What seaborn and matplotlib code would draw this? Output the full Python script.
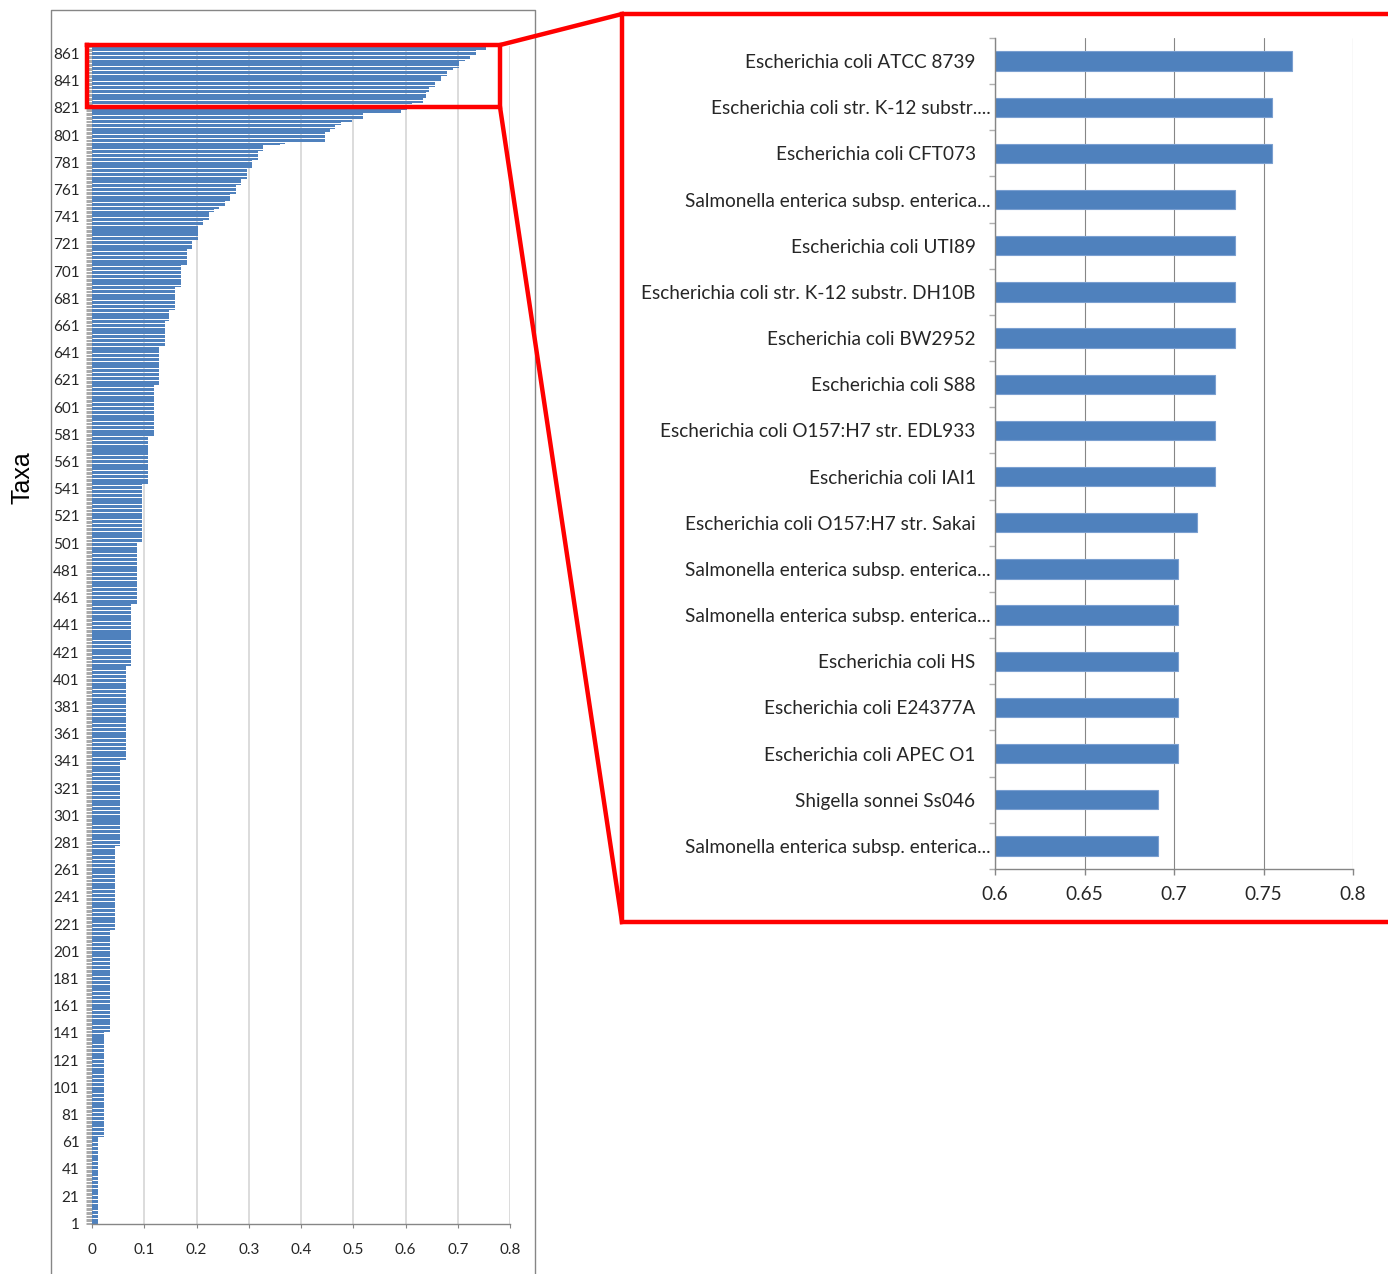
import numpy as np
import pandas as pd
import matplotlib.pyplot as plt
import matplotlib.transforms as mtransforms
from matplotlib import font_manager
import seaborn as sns

# ---------------------------------------------------------
# data
# ---------------------------------------------------------
# left panel: sorted scores of all taxa, as runs of equal value (taxa 1..848)
run_values = [0.0115, 0.023, 0.0345, 0.0435, 0.0545, 0.0645, 0.075, 0.086,
              0.0955, 0.107, 0.118, 0.128, 0.139, 0.148, 0.159, 0.170,
              0.181, 0.191, 0.202, 0.212, 0.223, 0.234, 0.244, 0.255,
              0.265, 0.276, 0.286, 0.297, 0.307, 0.318, 0.328, 0.360,
              0.370, 0.445, 0.456, 0.466, 0.476, 0.497, 0.518, 0.591,
              0.602, 0.613, 0.634, 0.640, 0.645, 0.656, 0.667, 0.680]
run_counts = [64, 77, 75, 62, 63, 69, 46, 45,
              43, 35, 38, 28, 19, 8, 17, 16,
              12, 6, 11, 4, 6, 2, 2, 4,
              5, 7, 4, 8, 6, 7, 4, 1,
              1, 8, 2, 3, 2, 2, 5, 2,
              2, 3, 4, 4, 4, 4, 4, 4]

# right panel: the 18 best taxa (top to bottom), also the top of the left panel
zoom_names = ['Escherichia coli ATCC 8739',
              'Escherichia coli str. K-12 substr....',
              'Escherichia coli CFT073',
              'Salmonella enterica subsp. enterica...',
              'Escherichia coli UTI89',
              'Escherichia coli str. K-12 substr. DH10B',
              'Escherichia coli BW2952',
              'Escherichia coli S88',
              'Escherichia coli O157:H7 str. EDL933',
              'Escherichia coli IAI1',
              'Escherichia coli O157:H7 str. Sakai',
              'Salmonella enterica subsp. enterica...',
              'Salmonella enterica subsp. enterica...',
              'Escherichia coli HS',
              'Escherichia coli E24377A',
              'Escherichia coli APEC O1',
              'Shigella sonnei Ss046',
              'Salmonella enterica subsp. enterica...']
zoom_values = [0.766, 0.755, 0.755, 0.734, 0.734, 0.734, 0.734, 0.723, 0.723,
               0.723, 0.713, 0.702, 0.702, 0.702, 0.702, 0.702, 0.691, 0.691]

left_yticks = list(range(1, 862, 20))
left_xticks = [0, 0.1, 0.2, 0.3, 0.4, 0.5, 0.6, 0.7, 0.8]
left_xlabels = ['0', '0.1', '0.2', '0.3', '0.4', '0.5', '0.6', '0.7', '0.8']
zoom_xticks = [0.6, 0.65, 0.7, 0.75, 0.8]
zoom_xlabels = ['0.6', '0.65', '0.7', '0.75', '0.8']

# ---------------------------------------------------------
# style
# ---------------------------------------------------------
sns.set_style('white')
plt.rcParams['font.family'] = ['Lato', 'DejaVu Sans']

bar_blue = '#4F81BD'
axis_gray = '#868686'
text_color = '#262626'

# condensed face for the small left panel if there is one
installed = {f.name for f in font_manager.fontManager.ttflist}
if 'Liberation Sans Narrow' in installed:
    narrow, narrow_size = ['Liberation Sans Narrow', 'DejaVu Sans'], 12
else:
    narrow, narrow_size = ['Lato', 'DejaVu Sans'], 11

W, H = 1388, 1274
fig = plt.figure(figsize=(W / 100, H / 100), dpi=100, facecolor='white')


def px_axes(x0, y0, x1, y1, **kw):
    """axes placed by pixel box (top-left origin)"""
    return fig.add_axes([x0 / W, 1 - y1 / H, (x1 - x0) / W, (y1 - y0) / H], **kw)


# ---------------------------------------------------------
# left panel: all taxa
# ---------------------------------------------------------
all_values = np.concatenate([np.repeat(run_values, run_counts), zoom_values[::-1]])
left_df = pd.DataFrame({'taxon': np.arange(1, len(all_values) + 1), 'value': all_values})

axL = px_axes(92, 46, 510, 1224)
sns.barplot(data=left_df, x='value', y='taxon', orient='h', native_scale=True,
            color=bar_blue, saturation=1, width=0.8, linewidth=0,
            errorbar=None, ax=axL)
axL.set_xlim(0, 0.8)
axL.set_ylim(0.5, len(all_values) + 0.5)
axL.set_xlabel('')
axL.set_ylabel('')
axL.set_axisbelow(True)
axL.xaxis.grid(True, color='#d9d9d9', linewidth=1.3)
axL.yaxis.grid(False)
for side in ['top', 'right', 'left']:
    axL.spines[side].set_visible(False)
axL.spines['bottom'].set_color(axis_gray)
axL.spines['bottom'].set_linewidth(1.0)

axL.set_yticks(left_yticks)
axL.set_yticklabels([str(t) for t in left_yticks], family=narrow, fontsize=narrow_size, color=text_color)
axL.set_yticks(np.arange(0.5, len(all_values) + 1, 1), minor=True)
axL.tick_params(axis='y', which='major', length=0, pad=9)
axL.tick_params(axis='y', which='minor', length=4, width=0.5, color=axis_gray, left=True)
axL.set_xticks(left_xticks)
axL.set_xticklabels(left_xlabels, family=narrow, fontsize=narrow_size, color=text_color)
axL.tick_params(axis='x', which='major', length=3, width=0.8, color=axis_gray, bottom=True, pad=11)

fig.text(22 / W, 1 - 478 / H, 'Taxa', rotation=90, ha='center', va='center',
         fontsize=18, color='black', family=['Liberation Sans', 'DejaVu Sans'])

# ---------------------------------------------------------
# right panel: zoom on the top 18
# ---------------------------------------------------------
zoom_df = pd.DataFrame({'rank': [str(i) for i in range(len(zoom_values))],
                        'value': zoom_values})
axR = px_axes(995, 38, 1353, 869)
sns.barplot(data=zoom_df, x='value', y='rank', orient='h', color=bar_blue,
            saturation=1, width=0.42, edgecolor='#7A9FD0', linewidth=0.8,
            errorbar=None, ax=axR)
axR.set_xlim(0.6, 0.8)
axR.set_ylim(len(zoom_values) - 0.5, -0.5)
axR.set_xlabel('')
axR.set_ylabel('')
axR.set_axisbelow(True)
axR.xaxis.grid(True, color=axis_gray, linewidth=0.8)
axR.yaxis.grid(False)
for side in ['top', 'right']:
    axR.spines[side].set_visible(False)
for side in ['left', 'bottom']:
    axR.spines[side].set_color(axis_gray)
    axR.spines[side].set_linewidth(1.0)

axR.set_yticks(range(len(zoom_names)))
axR.set_yticklabels(zoom_names, fontsize=13.7, color=text_color)
axR.set_yticks(np.arange(-0.5, len(zoom_names), 1), minor=True)
axR.tick_params(axis='y', which='major', length=0, pad=14)
axR.tick_params(axis='y', which='minor', length=4.5, width=1.0, color='#b0b0b0', left=True)
axR.set_xticks(zoom_xticks)
axR.set_xticklabels(zoom_xlabels, fontsize=13.7, color=text_color)
axR.tick_params(axis='x', which='major', length=4.5, width=1.0, color=axis_gray, bottom=True, pad=8)

# truncated names run up to the axis, as in the original
shift = mtransforms.ScaledTranslation(15 / 100, 0, fig.dpi_scale_trans)
for lab in axR.get_yticklabels():
    if lab.get_text().endswith('...'):
        lab.set_transform(lab.get_transform() + shift)

# ---------------------------------------------------------
# frame of the left chart and the red zoom outline
# ---------------------------------------------------------
ov = fig.add_axes([0, 0, 1, 1], zorder=10)
ov.set_xlim(0, W)
ov.set_ylim(H, 0)
ov.axis('off')
ov.patch.set_alpha(0)

ov.plot([51, 51, 535, 535], [1290, 10, 10, 1290], color=axis_gray, linewidth=1.0)
red_kw = dict(color='#FF0000', linewidth=3.2, solid_joinstyle='miter', solid_capstyle='projecting')
ov.plot([87, 500, 500, 87, 87], [45, 45, 107, 107, 45], **red_kw)
ov.plot([1400, 622, 622, 1400], [14, 14, 922, 922], **red_kw)
ov.plot([500, 622], [45, 14], **red_kw)
ov.plot([500, 622], [107, 922], **red_kw)

plt.savefig('out.png', dpi=100, facecolor=fig.get_facecolor())
